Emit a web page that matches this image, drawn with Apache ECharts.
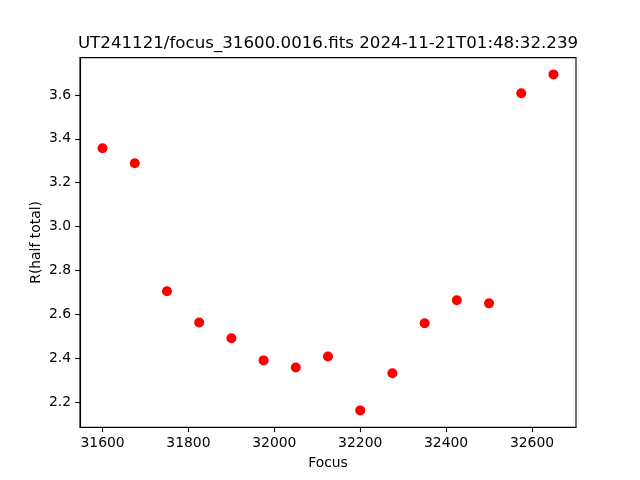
<!DOCTYPE html>
<html><head><meta charset="utf-8">
<script src="https://cdn.jsdelivr.net/npm/echarts@6/dist/echarts.min.js"></script>
<style>html,body{margin:0;padding:0;background:#fff}#c{width:640px;height:480px}</style>
</head><body><div id="c"></div>
<script>
const titleText = 'UT241121/focus_31600.0016.fits 2024-11-21T01:48:32.239';
const focus = [31600,31675,31750,31825,31900,31975,32050,32125,32200,32275,32350,32425,32500,32575,32650];
const rHalf = [3.357,3.289,2.705,2.563,2.491,2.390,2.358,2.408,2.162,2.331,2.559,2.664,2.650,3.608,3.694];
const xTicks = [31600,31800,32000,32200,32400,32600];
const yTicks = [2.2,2.4,2.6,2.8,3.0,3.2,3.4,3.6];

const xmin = Math.min(...focus), xmax = Math.max(...focus);
const ymin = Math.min(...rHalf), ymax = Math.max(...rHalf);
const xm = (xmax - xmin) * 0.05, ym = (ymax - ymin) * 0.05;
const font = 'DejaVu Sans';
const chart = echarts.init(document.getElementById('c'), null, {renderer: 'canvas'});
chart.setOption({
  animation: false,
  backgroundColor: '#fff',
  textStyle: {fontFamily: font},
  graphic: [{type: 'text', x: 328, y: 44, style: {text: titleText, font: '16.67px "DejaVu Sans"', fill: '#000', textAlign: 'center', textVerticalAlign: 'middle'}}],
  grid: {left: 80, right: 64, top: 57.6, bottom: 52.8, show: true, borderColor: '#000', borderWidth: 1.1, backgroundColor: 'transparent'},
  xAxis: {
    type: 'value', min: xmin - xm, max: xmax + xm,
    name: 'Focus', nameLocation: 'middle', nameGap: 29,
    nameTextStyle: {fontSize: 13.9, color: '#000', fontFamily: font},
    axisLine: {show: true, lineStyle: {color: '#000', width: 1.1}},
    axisTick: {show: true, length: 4.9, lineStyle: {color: '#000', width: 1.1}, customValues: xTicks},
    axisLabel: {fontSize: 13.9, color: '#000', margin: 9, fontFamily: font, customValues: xTicks, formatter: v => String(Math.round(v))},
    splitLine: {show: false}
  },
  yAxis: {
    type: 'value', min: ymin - ym, max: ymax + ym,
    name: 'R(half total)', nameLocation: 'middle', nameGap: 37, nameMoveOverlap: false,
    nameTextStyle: {fontSize: 13.9, color: '#000', fontFamily: font},
    axisLine: {show: true, lineStyle: {color: '#000', width: 1.1}},
    axisTick: {show: true, length: 4.9, lineStyle: {color: '#000', width: 1.1}, customValues: yTicks},
    axisLabel: {fontSize: 13.9, color: '#000', margin: 9, fontFamily: font, customValues: yTicks, formatter: v => v.toFixed(1)},
    splitLine: {show: false}
  },
  series: [{
    type: 'scatter', symbol: 'circle', symbolSize: 10,
    itemStyle: {color: '#ff0000', opacity: 1},
    data: focus.map((f, i) => [f, rHalf[i]])
  }]
});
</script></body></html>
